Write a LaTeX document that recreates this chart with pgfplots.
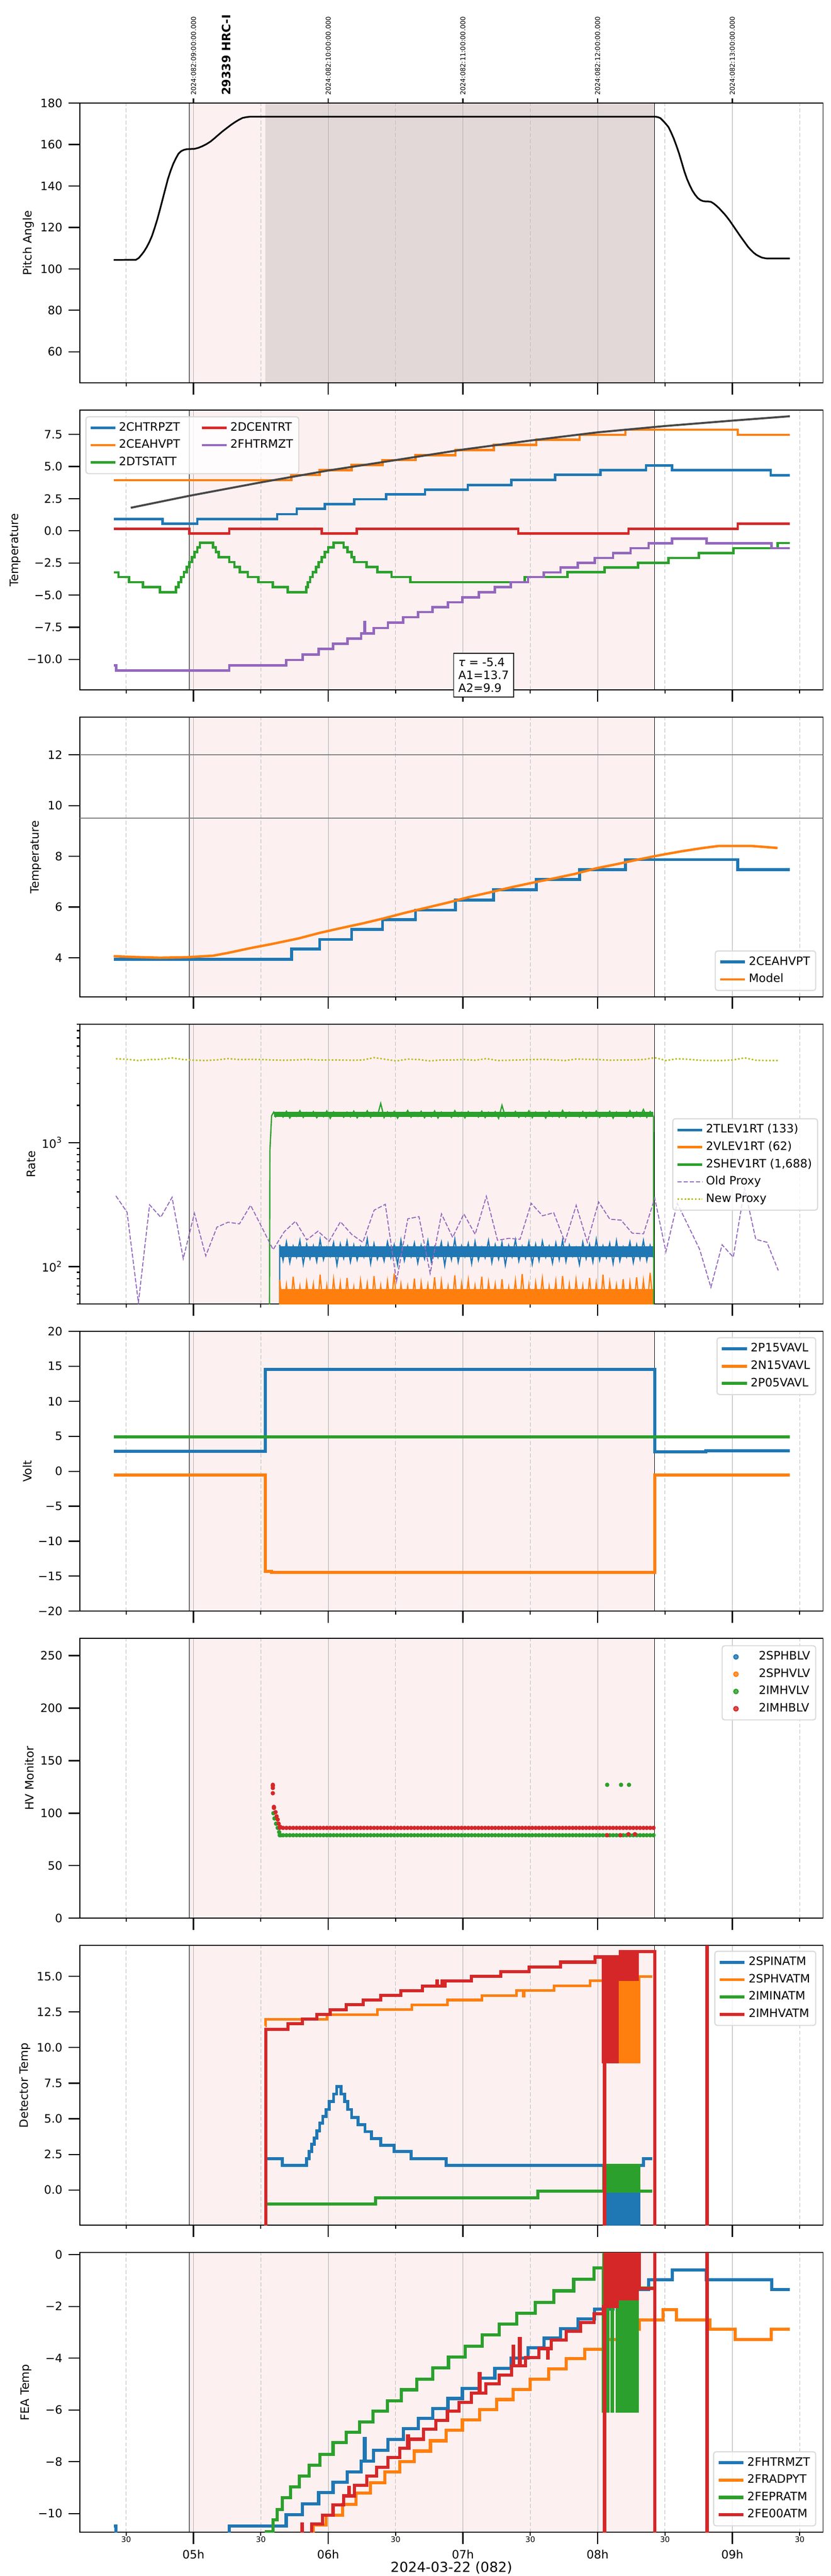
\documentclass[border=0pt]{standalone}
\usepackage{fontspec}
\setmainfont{DejaVu Sans}
\usepackage{pgfplots}
\usepackage{pgfplotstable}
\pgfplotsset{compat=1.18}
\definecolor{C0}{HTML}{1F77B4}
\definecolor{C1}{HTML}{FF7F0E}
\definecolor{C2}{HTML}{2CA02C}
\definecolor{C3}{HTML}{D62728}
\definecolor{C4}{HTML}{9467BD}
\definecolor{C8}{HTML}{BCBD22}
\definecolor{pinkbg}{RGB}{252,240,240}
\definecolor{darkbg}{RGB}{227,216,216}
\newcommand\fs{\fontsize{6.95}{8}\selectfont}
\newcommand\fsm{\fontsize{4.6}{5}\selectfont}
\newcommand\fst{\fontsize{4}{4.5}\selectfont}
\newcommand\fsl{\fontsize{8.3}{9.5}\selectfont}

\pgfplotsset{
  base/.style={
    set layers, clip mode=individual,
    scale only axis, width=447.1pt, height=168.4pt, anchor=north west,
    xmin=4.157, xmax=9.673,
    xtick={5,6,7,8,9}, xticklabels={},
    minor xtick={4.5,5.5,6.5,7.5,8.5,9.5},
    xmajorgrids=true, xminorgrids=true, ymajorgrids=false,
    major grid style={draw=black!32, line width=0.3pt},
    minor grid style={draw=black!27, line width=0.3pt, dash pattern=on 2.4pt off 1.3pt},
    tick align=outside, xtick pos=lower, ytick pos=left,
    major tick length=7pt, minor tick length=2pt,
    tick style={black, line width=0.7pt},
    axis line style={line width=0.55pt},
    tick label style={font=\fs},
    ylabel style={font=\fs, yshift=-3pt},
    legend style={font=\fs, draw=black!15, line width=0.65pt, rounded corners=1.5pt, fill=white, fill opacity=0.8, text opacity=1,
      inner xsep=2pt, inner ysep=2pt, row sep=1pt,
      nodes={inner sep=1.4pt, text height=5.1pt, text depth=1.5pt}},
    legend cell align=left,
    legend image code/.code={\draw[#1, sharp plot] plot coordinates {(0pt,0pt) (15pt,0pt)};},
    /pgf/number format/assume math mode=true,
  },
}
\newcommand\decor[2]{%
  \addplot[draw=none, fill=pinkbg, on layer=axis background, forget plot] coordinates {(4.968,#1) (8.423,#1) (8.423,#2) (4.968,#2)};
  \addplot[black, line width=0.35pt, forget plot] coordinates {(4.968,#1) (4.968,#2)};
  \addplot[black, line width=0.35pt, forget plot] coordinates {(8.423,#1) (8.423,#2)};
}

\pgfplotstableread{
x y
4.407 -10.48
4.425 -10.87
5.265 -10.48
5.688 -10.05
5.810 -9.63
5.929 -9.19
6.036 -8.79
6.142 -8.39
6.245 -7.97
6.268 -7.10
6.274 -7.97
6.338 -7.56
6.443 -7.14
6.557 -6.72
6.668 -6.32
6.775 -5.95
6.889 -5.56
6.996 -5.17
7.119 -4.78
7.237 -4.39
7.356 -4.00
7.484 -3.60
7.601 -3.23
7.725 -2.86
7.854 -2.48
7.978 -2.11
8.115 -1.74
8.245 -1.35
8.379 -0.97
8.553 -0.60
8.808 -0.97
9.292 -1.35
9.427 -1.35
}\tabFHTR

\pgfplotstableread{
x y
4.407 3.94
5.727 4.34
5.937 4.72
6.174 5.11
6.403 5.50
6.648 5.88
6.945 6.27
7.229 6.68
7.545 7.08
7.866 7.47
8.206 7.87
9.040 7.47
9.427 7.47
}\tabCEAH

\pgfplotstableread{
x old new
4.424 372 4750
4.507 274 4700
4.591 51 4600
4.674 315 4680
4.757 250 4700
4.841 362 4830
4.924 116 4680
5.007 269 4620
5.091 122 4600
5.174 208 4650
5.257 228 4760
5.341 221 4680
5.424 312 4700
5.507 208 4680
5.591 137 4640
5.674 191 4620
5.757 232 4640
5.841 164 4700
5.924 193 4640
6.007 160 4650
6.091 230 4640
6.174 182 4620
6.257 157 4640
6.341 285 4850
6.424 318 4700
6.507 76 4560
6.591 243 4720
6.674 253 4680
6.757 88 4560
6.841 266 4650
6.924 172 4640
7.007 266 4680
7.091 182 4620
7.174 369 4760
7.257 163 4600
7.341 169 4620
7.424 166 4650
7.507 324 4680
7.591 257 4700
7.674 272 4650
7.757 158 4600
7.841 312 4720
7.924 157 4700
8.007 332 4680
8.091 241 4620
8.174 237 4640
8.257 186 4650
8.341 184 4680
8.424 356 4850
8.507 132 4600
8.591 324 4750
8.674 212 4700
8.757 138 4620
8.841 68 4600
8.924 150 4600
9.007 119 4650
9.091 428 4830
9.174 166 4620
9.257 157 4600
9.341 93 4600
}\tabProxy

\pgfplotstableread{
x b o g hvg hvr
5.640 150 78 1760 79 86
5.665 112 42 1610 79 86
5.690 158 71 1790 79 86
5.715 108 39 1580 79 86
5.740 146 83 1740 79 86
5.765 119 45 1630 79 86
5.790 162 69 1810 79 86
5.815 105 40 1600 79 86
5.840 151 75 1750 79 86
5.865 116 47 1640 79 86
5.890 147 72 1780 79 86
5.915 110 38 1590 79 86
5.940 165 86 1730 79 86
5.965 114 44 1620 79 86
5.990 143 70 1800 79 86
6.015 121 41 1570 79 86
6.040 156 79 1770 79 86
6.065 103 46 1650 79 86
6.090 152 74 1745 79 86
6.115 117 39 1605 79 86
6.140 160 81 1760 79 86
6.165 109 43 1615 79 86
6.190 149 68 1795 79 86
6.215 113 40 1585 79 86
6.240 145 77 1735 79 86
6.265 120 48 1625 79 86
6.290 167 73 1805 79 86
6.315 106 37 1600 79 86
6.340 153 84 1755 79 86
6.365 115 44 1640 79 86
6.390 141 70 2070 79 86
6.415 111 41 1595 79 86
6.440 158 76 1770 79 86
6.465 118 45 1620 79 86
6.490 150 88 1785 79 86
6.515 104 39 1575 79 86
6.540 163 72 1745 79 86
6.565 112 46 1645 79 86
6.590 146 69 1815 79 86
6.615 120 42 1605 79 86
6.640 155 80 1750 79 86
6.665 107 38 1630 79 86
6.690 148 74 1790 79 86
6.715 116 47 1590 79 86
6.740 161 71 1740 79 86
6.765 110 43 1615 79 86
6.790 144 82 1800 79 86
6.815 119 40 1580 79 86
6.840 157 76 1765 79 86
6.865 102 45 1650 79 86
6.890 152 69 1735 79 86
6.915 114 41 1600 79 86
6.940 166 85 1810 79 86
6.965 109 39 1625 79 86
6.990 147 73 1755 79 86
7.015 121 46 1585 79 86
7.040 154 78 1780 79 86
7.065 106 42 1640 79 86
7.090 159 70 1745 79 86
7.115 113 44 1610 79 86
7.140 143 83 1795 79 86
7.165 118 37 1595 79 86
7.190 162 75 1760 79 86
7.215 108 48 1630 79 86
7.240 150 72 1775 79 86
7.265 115 41 1570 79 86
7.290 156 79 2000 79 86
7.315 103 43 1620 79 86
7.340 148 68 1750 79 86
7.365 120 46 1645 79 86
7.390 164 77 1785 79 86
7.415 111 40 1600 79 86
7.440 145 87 1740 79 86
7.465 117 44 1615 79 86
7.490 158 71 1805 79 86
7.515 105 39 1590 79 86
7.540 151 74 1765 79 86
7.565 112 47 1635 79 86
7.590 160 80 1750 79 86
7.615 119 42 1580 79 86
7.640 146 69 1790 79 86
7.665 107 45 1625 79 86
7.690 155 76 1745 79 86
7.715 114 38 1605 79 86
7.740 163 84 1820 79 86
7.765 110 43 1595 79 86
7.790 149 72 1760 79 86
7.815 121 41 1640 79 86
7.840 142 78 1735 79 86
7.865 104 46 1610 79 86
7.890 157 70 1780 79 86
7.915 116 40 1585 79 86
7.940 151 81 1755 79 86
7.965 109 44 1630 79 86
7.990 165 73 1800 79 86
8.015 113 39 1600 79 86
8.040 147 86 1745 79 86
8.065 118 42 1620 79 86
8.090 154 75 1790 79 86
8.115 106 47 1575 79 86
8.140 161 71 1765 79 86
8.165 111 43 1645 79 86
8.190 144 79 1740 79 86
8.215 120 38 1610 79 86
8.240 158 74 1810 79 86
8.265 108 45 1595 79 86
8.290 150 82 1770 79 86
8.315 115 41 1625 79 86
8.340 162 77 1850 79 86
8.365 112 44 1600 79 86
8.390 148 89 1780 79 86
8.415 118 46 1630 79 86
}\tabNoise

\begin{document}
\begin{tikzpicture}

% ---------------- Panel 1: Pitch angle
\begin{axis}[base, at={(48.1pt,1488pt)},
  ymin=45, ymax=180, ytick={60,80,100,120,140,160,180},
  yticklabels={60,80,100,120,140,160,180},
  ylabel={Pitch Angle},
  extra description/.code={
    \foreach \rr/\hh in {0.15283/09,0.33412/10,0.51541/11,0.69670/12,0.87799/13}{
      \draw[line width=0.7pt] (\rr,1) -- ++(canvas cs:x=0pt,y=2.75pt);
      \path (\rr,1) ++(canvas cs:x=0pt,y=4.45pt) node[rotate=90,anchor=west,inner sep=0pt,font=\fst]{2024:082:\hh:00:00.000};
    }
    \path (0.1972,1) ++(canvas cs:x=0pt,y=4.45pt) node[rotate=90,anchor=west,inner sep=0pt,font=\fs\bfseries]{29339 HRC-I};
  }]
\decor{-100}{300}
\addplot[draw=none, fill=darkbg, on layer=axis background, forget plot] coordinates {(5.534,-100) (8.423,-100) (8.423,300) (5.534,300)};
\addplot[black, line width=1pt] coordinates {
(4.407,104.3)(4.573,104.4)(4.593,105.2)(4.613,106.7)(4.632,108.3)(4.652,110.4)(4.672,112.9)(4.692,115.9)
(4.711,119.6)(4.731,123.8)(4.751,128.6)(4.771,133.6)(4.791,138.6)(4.810,143.3)(4.830,147.3)(4.850,150.7)
(4.870,153.4)(4.889,155.6)(4.909,156.8)(4.929,157.4)(4.949,157.7)(4.968,157.8)(5.008,157.9)(5.037,158.4)
(5.067,159.2)(5.097,160.2)(5.126,161.4)(5.156,163.0)(5.186,164.7)(5.215,166.3)(5.245,167.8)(5.275,169.3)
(5.304,170.6)(5.334,171.8)(5.364,172.8)(5.393,173.2)(5.423,173.4)(8.427,173.4)(8.447,173.2)(8.466,172.7)
(8.486,171.4)(8.506,170.0)(8.526,168.4)(8.545,165.9)(8.565,162.9)(8.585,159.4)(8.605,155.6)(8.625,151.2)
(8.644,147.0)(8.664,143.3)(8.684,140.3)(8.703,137.8)(8.723,135.8)(8.743,134.2)(8.763,133.2)(8.782,132.7)
(8.802,132.5)(8.822,132.5)(8.842,132.3)(8.862,131.5)(8.881,130.5)(8.901,129.3)(8.921,127.9)(8.941,126.5)
(8.960,125.0)(8.980,123.3)(9.000,121.4)(9.020,119.5)(9.040,117.6)(9.059,115.8)(9.079,114.0)(9.099,112.2)
(9.118,110.5)(9.138,109.1)(9.158,107.8)(9.178,106.8)(9.198,106.1)(9.217,105.5)(9.237,105.2)(9.257,105.0)(9.427,105.0)};
\end{axis}

% ---------------- Panel 2: Temperatures
\begin{axis}[base, at={(48.1pt,1303.23pt)},
  ymin=-12.38, ymax=9.39, ytick={-10,-7.5,-5,-2.5,0,2.5,5,7.5},
  yticklabels={−10.0,−7.5,−5.0,−2.5,0.0,2.5,5.0,7.5},
  ylabel={Temperature},
  legend columns=2,
  legend style={at={(0.0073,0.978)}, anchor=north west, /tikz/every even column/.append style={column sep=11pt}},
  extra description/.code={
    \node[draw=black, line width=0.55pt, fill=white, anchor=south west, align=left, inner sep=2.8pt,
      font=\fontsize{6.95}{7.8}\selectfont] at (0.5023,-0.0267) {\textit{τ} = -5.4\\A1=13.7\\A2=9.9};
  }]
\decor{-100}{300}
\addlegendimage{C0, line width=1.45pt}\addlegendentry{2CHTRPZT}
\addlegendimage{C3, line width=1.45pt}\addlegendentry{2DCENTRT}
\addlegendimage{C1, line width=1.45pt}\addlegendentry{2CEAHVPT}
\addlegendimage{C4, line width=1.45pt}\addlegendentry{2FHTRMZT}
\addlegendimage{C2, line width=1.45pt}\addlegendentry{2DTSTATT}
\addplot[C0, line width=1.45pt, const plot, forget plot] coordinates {
(4.407,0.9)(4.771,0.54)(5.028,0.9)(5.621,1.29)(5.767,1.71)(5.976,2.08)(6.194,2.45)(6.431,2.84)(6.719,3.2)
(7.036,3.57)(7.360,3.96)(7.684,4.35)(8.020,4.72)(8.360,5.09)(8.553,4.72)(9.285,4.33)(9.427,4.33)};
\addplot[C1, line width=1.45pt, const plot, forget plot] table[x=x,y=y]{\tabCEAH};
\addplot[C2, line width=1.45pt, const plot, forget plot] coordinates {
(4.407,-3.23)(4.443,-3.60)(4.522,-3.99)(4.625,-4.38)(4.751,-4.77)(4.870,-4.38)(4.889,-3.99)(4.909,-3.60)
(4.929,-3.21)(4.949,-2.82)(4.968,-2.43)(4.988,-2.04)(5.008,-1.65)(5.028,-1.29)(5.047,-0.93)(5.146,-1.29)
(5.166,-1.65)(5.186,-2.04)(5.265,-2.43)(5.304,-2.82)(5.344,-3.21)(5.403,-3.60)(5.482,-3.99)(5.589,-4.38)
(5.700,-4.77)(5.838,-4.38)(5.850,-3.99)(5.866,-3.60)(5.885,-3.21)(5.909,-2.82)(5.929,-2.43)(5.953,-2.04)
(5.976,-1.65)(6.000,-1.29)(6.040,-0.93)(6.115,-1.29)(6.142,-1.65)(6.174,-2.04)(6.194,-2.43)(6.285,-2.82)
(6.364,-3.21)(6.470,-3.60)(6.609,-3.99)(7.458,-3.60)(7.775,-3.21)(8.051,-2.86)(8.300,-2.48)(8.526,-2.11)
(8.751,-1.74)(9.008,-1.35)(9.336,-0.95)(9.427,-0.95)};
\addplot[C3, line width=1.45pt, const plot, forget plot] coordinates {
(4.407,0.155)(4.968,-0.2)(5.265,0.155)(5.953,-0.2)(6.213,0.155)(7.411,-0.2)(8.229,0.155)(9.040,0.54)(9.427,0.54)};
\addplot[C4, line width=1.45pt, const plot, forget plot] table[x=x,y=y]{\tabFHTR};
\addplot[black!72, line width=1.2pt, forget plot] coordinates {
(4.534,1.79)(4.968,2.72)(5.502,3.77)(6.0,4.69)(6.5,5.5)(7.0,6.32)(7.5,7.02)(8.0,7.66)(8.5,8.15)(9.0,8.57)(9.427,8.91)};
\end{axis}

% ---------------- Panel 3: 2CEAHVPT vs model
\begin{axis}[base, at={(48.1pt,1118.47pt)},
  ymin=2.45, ymax=13.49, ytick={4,6,8,10,12}, yticklabels={4,6,8,10,12},
  ylabel={Temperature},
  legend style={at={(0.991,0.0215)}, anchor=south east}]
\decor{-100}{300}
\addplot[black!50, line width=0.6pt, forget plot] coordinates {(0,12) (20,12)};
\addplot[black!50, line width=0.6pt, forget plot] coordinates {(0,9.5) (20,9.5)};
\addplot[C0, line width=1.8pt, const plot] table[x=x,y=y]{\tabCEAH};
\addlegendentry{2CEAHVPT}
\addplot[C1, line width=1.45pt] coordinates {
(4.407,4.06)(4.553,4.03)(4.751,4.0)(4.949,4.02)(5.146,4.08)(5.265,4.2)(5.423,4.38)(5.581,4.54)(5.779,4.76)
(5.937,4.98)(6.095,5.17)(6.253,5.35)(6.411,5.55)(6.569,5.77)(6.727,5.97)(6.885,6.17)(7.043,6.39)(7.202,6.58)
(7.360,6.78)(7.518,6.96)(7.676,7.13)(7.834,7.31)(7.992,7.53)(8.150,7.70)(8.308,7.88)(8.466,8.05)(8.625,8.2)
(8.783,8.33)(8.901,8.41)(9.138,8.41)(9.336,8.33)};
\addlegendentry{Model}
\end{axis}

% ---------------- Panel 4: Rate (log)
\begin{axis}[base, at={(48.1pt,933.7pt)}, ymode=log,
  ymin=49.8, ymax=9020, ytick={100,1000},
  yticklabels={10\textsuperscript{2},10\textsuperscript{3}},
  minor ytick={50,60,70,80,90,200,300,400,500,600,700,800,900,2000,3000,4000,5000,6000,7000,8000,9000},
  ylabel={Rate},
  legend style={at={(0.9935,0.499)}, anchor=east}]
\decor{1}{100000}
\addplot[draw=none, fill=C0, forget plot] coordinates {(5.642,119) (8.413,119) (8.413,146) (5.642,146)};
\addplot[draw=none, fill=C1, forget plot] coordinates {(5.642,30) (8.413,30) (8.413,66) (5.642,66)};
\addplot[draw=none, fill=C2, forget plot] coordinates {(5.600,1605) (8.413,1605) (8.413,1765) (5.600,1765)};
\addplot[C0, line width=0.75pt, forget plot] coordinates {(5.639,30) (5.640,150)};
\addplot[C0, line width=0.75pt, legend image post style={line width=1.6pt}] table[x=x,y=b]{\tabNoise};
\addlegendentry{2TLEV1RT (133)}
\addplot[C1, line width=0.75pt, forget plot] coordinates {(5.639,30) (5.640,78)};
\addplot[C1, line width=0.75pt, legend image post style={line width=1.6pt}] table[x=x,y=o]{\tabNoise};
\addlegendentry{2VLEV1RT (62)}
\addplot[C2, line width=0.75pt, forget plot] coordinates {(5.564,30) (5.567,850) (5.580,1650) (5.595,1760) (5.610,1620) (5.625,1740) (5.640,1760)};
\addplot[C2, line width=0.75pt, forget plot] coordinates {(8.415,1630) (8.417,30)};
\addplot[C2, line width=0.75pt, legend image post style={line width=1.6pt}] table[x=x,y=g]{\tabNoise};
\addlegendentry{2SHEV1RT (1,688)}
\addplot[C4, line width=0.6pt, dash pattern=on 2.6pt off 1.1pt] table[x=x,y=old]{\tabProxy};
\addlegendentry{Old Proxy}
\addplot[C8, line width=0.9pt, dash pattern=on 1pt off 1.1pt] table[x=x,y=new]{\tabProxy};
\addlegendentry{New Proxy}
\end{axis}

% ---------------- Panel 5: Volt
\begin{axis}[base, at={(48.1pt,748.94pt)},
  ymin=-20, ymax=20, ytick={-20,-15,-10,-5,0,5,10,15,20},
  yticklabels={−20,−15,−10,−5,0,5,10,15,20},
  ylabel={Volt},
  legend style={at={(0.991,0.979)}, anchor=north east}]
\decor{-100}{300}
\addplot[C0, line width=1.9pt, const plot] coordinates {(4.407,2.86)(5.534,14.57)(8.423,2.78)(8.802,2.9)(9.427,2.9)};
\addlegendentry{2P15VAVL}
\addplot[C1, line width=1.9pt, const plot] coordinates {(4.407,-0.57)(5.534,-14.3)(5.580,-14.43)(8.423,-0.57)(9.427,-0.57)};
\addlegendentry{2N15VAVL}
\addplot[C2, line width=1.9pt, const plot] coordinates {(4.407,4.91)(9.427,4.91)};
\addlegendentry{2P05VAVL}
\end{axis}

% ---------------- Panel 6: HV monitor
\begin{axis}[base, at={(48.1pt,564.17pt)},
  ymin=0, ymax=266.4, ytick={0,50,100,150,200,250}, yticklabels={0,50,100,150,200,250},
  ylabel={HV Monitor},
  legend image code/.code={\path (0pt,0pt) (18pt,0pt); \draw[#1, mark size=1.35pt] plot coordinates {(6pt,0pt)};},
  legend style={at={(0.991,0.9755)}, anchor=north east}]
\decor{-100}{300}
\addlegendimage{only marks, mark=*, mark size=1.1pt, C0}\addlegendentry{2SPHBLV}
\addlegendimage{only marks, mark=*, mark size=1.1pt, C1}\addlegendentry{2SPHVLV}
\addplot[only marks, mark=*, mark size=1.1pt, C2] table[x=x,y=hvg]{\tabNoise};
\addlegendentry{2IMHVLV}
\addplot[only marks, mark=*, mark size=1.1pt, C2, forget plot] coordinates {
(5.593,100)(5.601,95)(5.613,90)(5.625,86)(5.636,82)(5.648,79)(8.071,127)(8.174,127)(8.233,127)};
\addplot[only marks, mark=*, mark size=1.1pt, C3] table[x=x,y=hvr]{\tabNoise};
\addlegendentry{2IMHBLV}
\addplot[only marks, mark=*, mark size=1.1pt, C3, forget plot] coordinates {
(5.589,127)(5.589,126)(5.589,124)(5.589,119)(5.597,106)(5.597,105)(5.609,101)(5.617,97)(5.625,94)(5.632,90)(5.644,87)
(8.071,79)(8.170,79)(8.229,80)(8.277,80)};
\end{axis}

% ---------------- Panel 7: Detector temp
\begin{axis}[base, at={(48.1pt,379.4pt)},
  ymin=-2.48, ymax=17.17, ytick={0,2.5,5,7.5,10,12.5,15},
  yticklabels={0.0,2.5,5.0,7.5,10.0,12.5,15.0},
  ylabel={Detector Temp},
  legend style={at={(0.991,0.981)}, anchor=north east}]
\decor{-100}{300}
\addplot[C0, line width=1.8pt, const plot] coordinates {
(5.534,2.2)(5.660,1.72)(5.838,2.2)(5.858,2.7)(5.877,3.2)(5.897,3.65)(5.917,4.16)(5.937,4.7)(5.960,5.16)
(5.984,5.65)(6.008,6.2)(6.040,6.74)(6.063,7.26)(6.095,6.74)(6.123,6.2)(6.146,5.65)(6.174,5.1)(6.221,4.6)
(6.273,4.1)(6.320,3.6)(6.391,3.14)(6.490,2.7)(6.617,2.2)(6.877,1.72)
(8.070,-5)(8.083,1.72)(8.095,-5)(8.108,1.72)(8.120,-5)(8.133,1.72)(8.145,-5)(8.158,1.72)(8.170,-5)
(8.183,1.72)(8.195,-5)(8.208,1.72)(8.220,-5)(8.233,1.72)(8.245,-5)(8.258,1.72)(8.270,-5)(8.283,1.72)
(8.295,-5)(8.308,1.72)(8.340,2.2)(8.407,2.2)};
\addlegendentry{2SPINATM}
\addplot[C1, line width=1.6pt, const plot] coordinates {
(5.534,11.5)(5.536,11.99)(5.992,12.32)(6.364,12.66)(6.621,13.0)(6.885,13.34)(7.142,13.65)(7.399,14.0)
(7.449,13.6)(7.455,14.0)(7.676,14.33)(7.945,14.69)(8.051,-5)(8.055,14.69)
(8.070,9.0)(8.083,15.0)(8.095,9.0)(8.108,15.0)(8.120,9.0)(8.133,15.0)(8.145,9.0)(8.158,15.0)(8.170,9.0)
(8.183,15.0)(8.195,9.0)(8.208,15.0)(8.220,9.0)(8.233,15.0)(8.245,9.0)(8.258,15.0)(8.270,9.0)(8.283,15.0)
(8.295,9.0)(8.308,15.0)(8.407,15.0)};
\addlegendentry{2SPHVATM}
\addplot[C2, line width=1.8pt, const plot] coordinates {
(5.534,-0.99)(6.352,-0.54)(7.557,-0.09)
(8.045,1.75)(8.058,-0.09)(8.070,1.75)(8.083,-0.09)(8.095,1.75)(8.108,-0.09)(8.120,1.75)(8.133,-0.09)
(8.145,1.75)(8.158,-0.09)(8.170,1.75)(8.183,-0.09)(8.195,1.75)(8.208,-0.09)(8.220,1.75)(8.233,-0.09)
(8.245,1.75)(8.258,-0.09)(8.270,1.75)(8.283,-0.09)(8.295,1.75)(8.308,-0.09)(8.407,-0.09)};
\addlegendentry{2IMINATM}
\addplot[C3, line width=1.9pt, const plot] coordinates {
(5.534,-5)(5.536,11.29)(5.700,11.69)(5.810,12.0)(5.917,12.32)(6.016,12.66)(6.134,13.0)(6.261,13.34)
(6.391,13.65)(6.538,14.0)(6.700,14.33)(6.806,14.69)(6.811,14.33)(6.846,14.69)(6.850,14.33)(6.866,14.69)
(7.063,15.0)(7.281,15.33)(7.490,15.67)(7.723,16.0)(7.980,16.36)
(8.043,9.0)(8.049,-5)(8.053,16.36)(8.058,9.0)(8.070,16.36)(8.083,9.0)(8.095,16.36)(8.108,9.0)(8.120,16.36)
(8.133,9.0)(8.145,16.36)(8.158,14.8)(8.170,16.74)(8.183,14.8)(8.195,16.74)(8.208,14.8)(8.220,16.74)
(8.233,14.8)(8.245,16.74)(8.258,14.8)(8.270,16.74)(8.283,14.8)(8.295,16.74)(8.308,16.74)
(8.423,-5)(8.810,30)(8.815,-5)(9.427,-5)};
\addlegendentry{2IMHVATM}
\end{axis}

% ---------------- Panel 8: FEA temp
\begin{axis}[base, at={(48.1pt,194.64pt)},
  ymin=-10.73, ymax=0.08, ytick={-10,-8,-6,-4,-2,0},
  yticklabels={−10,−8,−6,−4,−2,0},
  ylabel={FEA Temp},
  xticklabels={05h,06h,07h,08h,09h},
  extra x ticks={4.5,5.5,6.5,7.5,8.5,9.5},
  extra x tick labels={30,30,30,30,30,30},
  extra x tick style={grid=none, major tick length=1.5pt, tick label style={font=\fsm, inner sep=0.8pt}},
  xlabel={2024-03-22 (082)},
  xlabel style={font=\fsl, at={(axis description cs:0.5,0)}, anchor=base, yshift=-23.9pt, inner sep=0pt},
  legend style={at={(0.991,0.0214)}, anchor=south east}]
\decor{-100}{100}
\addplot[C0, line width=1.9pt, const plot] table[x=x,y=y]{\tabFHTR};
\addlegendentry{2FHTRMZT}
\addplot[C1, line width=1.9pt, const plot] coordinates {
(5.880,-11)(5.889,-10.45)(5.984,-10.06)(6.107,-9.64)(6.206,-9.21)(6.312,-8.82)(6.419,-8.40)(6.530,-7.99)
(6.640,-7.59)(6.759,-7.19)(6.877,-6.78)(6.996,-6.39)(7.123,-5.99)(7.249,-5.60)(7.372,-5.21)(7.498,-4.81)
(7.636,-4.42)(7.767,-4.02)(7.905,-3.66)(8.043,-3.28)(8.150,-2.89)(8.308,-2.52)(8.486,-2.13)(8.585,-2.52)
(8.834,-2.89)(9.020,-3.28)(9.289,-2.89)(9.427,-2.89)};
\addlegendentry{2FRADPYT}
\addplot[C2, line width=1.9pt, const plot] coordinates {
(5.530,-10.7)(5.589,-10.24)(5.621,-9.84)(5.660,-9.39)(5.719,-8.97)(5.787,-8.56)(5.858,-8.14)(5.937,-7.72)
(6.036,-7.26)(6.134,-6.87)(6.233,-6.47)(6.332,-6.04)(6.439,-5.64)(6.542,-5.22)(6.656,-4.81)(6.775,-4.37)
(6.893,-3.96)(7.016,-3.54)(7.142,-3.11)(7.269,-2.69)(7.399,-2.27)(7.538,-1.84)(7.676,-1.40)(7.822,-0.96)
(7.972,-0.52)(8.043,-6.05)(8.048,0.5)(8.071,-6.05)(8.075,0.5)(8.107,-6.05)(8.111,0.5)(8.145,-6.05)
(8.158,0.5)(8.162,-6.05)(8.170,0.5)(8.183,-6.05)(8.195,0.5)(8.208,-6.05)(8.220,0.5)(8.233,-6.05)
(8.245,0.5)(8.258,-6.05)(8.270,0.5)(8.283,-6.05)(8.295,0.5)(8.308,-1.3)(8.423,2)(8.430,2)};
\addlegendentry{2FEPRATM}
\addplot[C3, line width=1.9pt, const plot] coordinates {
(5.800,-11)(5.806,-10.4)(5.810,-11)(5.877,-10.4)(5.957,-10.06)(6.036,-9.67)(6.115,-9.32)(6.152,-9.0)
(6.158,-9.32)(6.194,-8.92)(6.285,-8.56)(6.360,-8.21)(6.443,-7.83)(6.530,-7.48)(6.589,-7.0)(6.595,-7.48)
(6.601,-7.13)(6.708,-6.75)(6.798,-6.40)(6.885,-6.05)(6.972,-5.70)(7.063,-5.35)(7.120,-4.6)(7.126,-5.35)
(7.170,-5.0)(7.269,-4.65)(7.360,-4.30)(7.372,-3.55)(7.378,-4.30)(7.419,-3.25)(7.425,-4.30)(7.466,-3.98)
(7.565,-3.63)(7.628,-4.0)(7.634,-3.63)(7.656,-3.30)(7.767,-2.96)(7.874,-2.62)(7.972,-2.29)
(8.043,-2.0)(8.049,-20)(8.053,1)(8.058,-2.0)(8.070,1)(8.083,-2.0)(8.095,1)(8.108,-2.0)(8.120,1)(8.133,-2.0)
(8.145,1)(8.158,-1.7)(8.170,1)(8.183,-1.7)(8.195,1)(8.208,-1.7)(8.220,1)(8.233,-1.7)(8.245,1)(8.258,-1.7)
(8.270,1)(8.283,-1.7)(8.295,1)(8.308,-1.31)(8.423,5)(8.426,-20)(8.810,40)(8.815,-20)(9.427,-20)};
\addlegendentry{2FE00ATM}
\end{axis}
\path (0,0) rectangle (500pt,1550pt);
\end{tikzpicture}
\end{document}
